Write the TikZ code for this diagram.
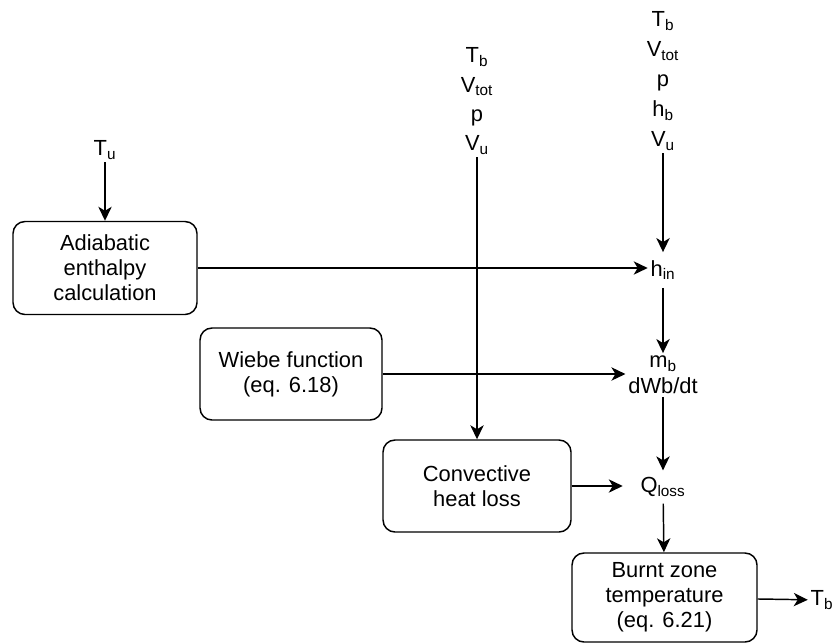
\documentclass[tikz,border=0pt]{standalone}
\usepackage{fontspec}
\setmainfont{Liberation Sans}
\usetikzlibrary{arrows.meta}

\tikzset{
    blk/.style={draw, line width=1.1pt, rounded corners=9pt, align=center},
    var/.style={align=center, inner sep=2pt, font=\fontsize{16.4}{22}\selectfont},
    arr/.style={line width=1.1pt, -{Stealth[length=10.5pt, width=10pt, inset=3pt]}},
    ln/.style={line width=1.1pt}
}

\begin{document}
\begin{tikzpicture}[x=0.75pt, y=-0.75pt, font=\fontsize{16.4}{18.75}\selectfont]
    \useasboundingbox (0,0) rectangle (838,643);
    % inputs
    \node[var] (tu) at (105,150) {T\textsubscript{u}};
    \node[var] (midin) at (477,101) {T\textsubscript{b}\\V\textsubscript{tot}\\p\\V\textsubscript{u}};
    \node[var, font=\fontsize{16.4}{22.5}\selectfont] (rin) at (663,81) {T\textsubscript{b}\\V\textsubscript{tot}\\p\\h\textsubscript{b}\\V\textsubscript{u}};
    % blocks
    \node[blk, minimum width=138pt, minimum height=69.75pt] (adia) at (105,268) {Adiabatic\\enthalpy\\calculation};
    \node[blk, minimum width=136.5pt, minimum height=69pt] (wiebe) at (291,374) {Wiebe function\\(eq. 6.18)};
    \node[blk, minimum width=141pt, minimum height=69pt] (conv) at (477,486) {Convective\\heat loss};
    \node[blk, minimum width=138.75pt, minimum height=66.75pt] (burnt) at (664.5,597.5) {Burnt zone\\temperature\\(eq. 6.21)};
    % intermediate values
    \node[var, inner ysep=6pt] (hin) at (663,270) {h\textsubscript{in}};
    \node[var, font=\fontsize{16.4}{19.5}\selectfont] (mb) at (663,375) {m\textsubscript{b}\\dWb/dt};
    \node[var, minimum width=60pt, inner ysep=5pt] (qloss) at (663,487) {Q\textsubscript{loss}};
    \node[var] (tbout) at (822,600) {T\textsubscript{b}};
    % connectors
    \draw[arr] (tu) -- (adia);
    \draw[arr] (midin) -- (conv);
    \draw[arr] (rin) -- (hin);
    \draw[arr] (adia.east) -- (adia.east -| hin.west);
    \draw[arr] (hin) -- (mb);
    \draw[arr] (wiebe.east) -- (wiebe.east -| mb.west);
    \draw[arr] (mb) -- (qloss);
    \draw[arr] (conv.east) -- (conv.east -| qloss.west);
    \draw[arr] (qloss) -- (burnt);
    \draw[arr] (burnt) -- (tbout);
\end{tikzpicture}
\end{document}
